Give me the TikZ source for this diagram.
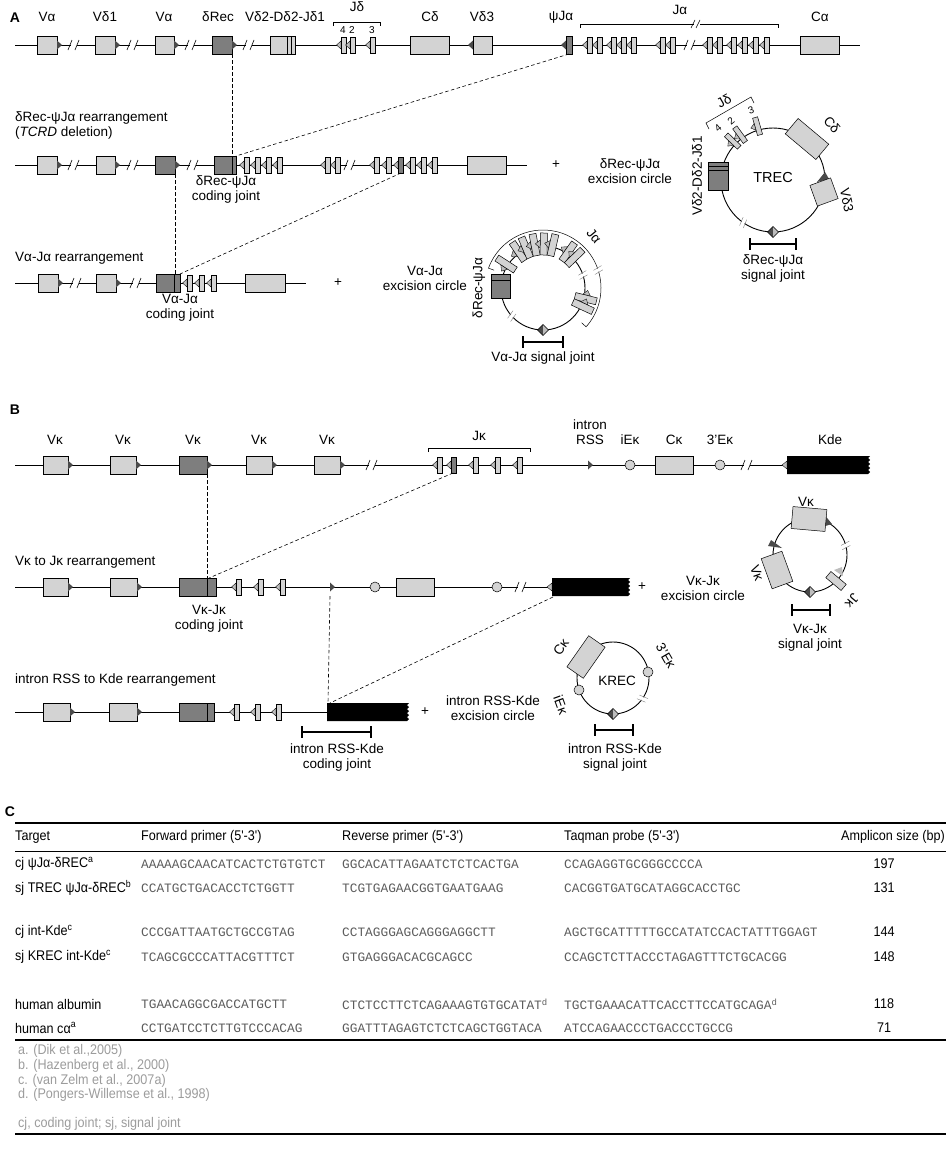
\documentclass[tikz,border=0pt]{standalone}
\usepackage{fontspec}
\setmainfont{Liberation Sans}
\newfontfamily\seqf{Liberation Mono}
\newfontfamily\tabf[FakeStretch=0.9]{Liberation Sans}
\usetikzlibrary{calc}
\definecolor{lgray}{HTML}{D3D3D3}
\definecolor{dgray}{HTML}{7E7E7E}
\definecolor{tgray}{HTML}{BDBDBD}
\definecolor{rgray}{HTML}{4A4A4A}
\definecolor{seqc}{HTML}{5C5C5C}
\definecolor{fnc}{HTML}{9C9C9C}
\newcommand\lf{\fontsize{13.5}{15}\selectfont}
\newcommand\tf{\tabf\fontsize{14}{15}\selectfont}
\newcommand\sqf{\seqf\fontsize{12.8}{14}\selectfont}
\tikzset{
 dna/.style={line width=0.9pt},
 gb/.style={draw=black,line width=0.5pt,fill=lgray},
 db/.style={draw=black,line width=0.5pt,fill=dgray},
 jtri/.style={draw=black,line width=0.35pt,fill=tgray},
 rss/.style={fill=rgray},
 dsh/.style={line width=0.6pt,dash pattern=on 3.5pt off 2.5pt},
 cir/.style={line width=0.9pt},
 lbl/.style={font=\lf,inner sep=0pt},
 sml/.style={font=\fontsize{10}{11}\selectfont,inner sep=0pt},
 panel/.style={font=\bfseries\fontsize{14}{16}\selectfont,inner sep=0pt},
 tx/.style={font=\tf,inner sep=0pt,anchor=west},
 sq/.style={font=\sqf,text=seqc,inner sep=0pt,anchor=west},
 fn/.style={font=\tf,text=fnc,inner sep=0pt,anchor=west},
 num/.style={font=\tf,inner sep=0pt},
 rbox/.style={draw=black,line width=0.5pt,inner sep=0pt},
}
% linear elements
\newcommand\gnbox[4]{\draw[#4] (#1,#3-9) rectangle (#2,#3+9);}
\newcommand\rssr[2]{\fill[rss] (#1,#2-4.5) -- (#1+5,#2) -- (#1,#2+4.5) -- cycle;}
\newcommand\rssl[2]{\fill[rss] (#1,#2-4.5) -- (#1-5,#2) -- (#1,#2+4.5) -- cycle;}
\newcommand\jsg[3]{\draw[jtri] (#1,#2-4) -- (#1-4.5,#2) -- (#1,#2+4) -- cycle;
 \draw[#3] (#1,#2-8) rectangle (#1+5,#2+8);}
\newcommand\brkk[2]{\fill[white] (#1-3,#2-2) rectangle (#1+3,#2+2);
 \draw[line width=0.6pt] (#1-6,#2+5) -- (#1-2,#2-5) (#1+1,#2+5) -- (#1+5,#2-5);}
\newcommand\kdebox[3]{\fill[black] (#1,#3-9) -- (#2,#3-9) -- (#2-2,#3-7) -- (#2,#3-5) -- (#2-2,#3-3) -- (#2,#3-1) -- (#2-2,#3+1) -- (#2,#3+3) -- (#2-2,#3+5) -- (#2,#3+7) -- (#2-2,#3+9) -- (#1,#3+9) -- cycle;}
% circle elements
\newcommand\cseg[4]{\begin{scope}[shift={#1},rotate=#2]
 \draw[#4] (#3pt-9pt,-2.6pt) rectangle (#3pt+9pt,2.6pt);
 \draw[jtri] (#3pt-3.5pt,2.6pt) -- (#3pt+3.5pt,2.6pt) -- (#3pt,7pt) -- cycle;
\end{scope}}
\newcommand\csegb[4]{\begin{scope}[shift={#1},rotate=#2]
 \draw[jtri] (#3pt-4pt,3.5pt) -- (#3pt+4pt,3.5pt) -- (#3pt,8.5pt) -- cycle;
 \draw[#4] (#3pt-11pt,-3.5pt) rectangle (#3pt+11pt,3.5pt);
\end{scope}}
\newcommand\cbrk[3]{\begin{scope}[shift={#1},rotate=#2]
 \fill[white] (#3pt-2pt,-1.6pt) rectangle (#3pt+2pt,1.6pt);
 \draw[line width=0.4pt,gray] (#3pt-4.5pt,-3.2pt) -- (#3pt+4.5pt,-1.2pt) (#3pt-4.5pt,1.2pt) -- (#3pt+4.5pt,3.2pt);
\end{scope}}
\newcommand\sjd[2]{\fill[rss] (#1-5.5,#2) -- (#1,#2-5.5) -- (#1,#2+5.5) -- cycle;
 \fill[tgray] (#1,#2-5.5) -- (#1+5.5,#2) -- (#1,#2+5.5) -- cycle;
 \draw[line width=0.4pt] (#1-5.5,#2) -- (#1,#2-5.5) -- (#1+5.5,#2) -- (#1,#2+5.5) -- cycle;}
\newcommand\sbar[3]{\draw[line width=1.8pt] (#1,#3) -- (#2,#3) (#1,#3-6) -- (#1,#3+6) (#2,#3-6) -- (#2,#3+6);}
\begin{document}
\begin{tikzpicture}[x=1pt,y=-1pt]
\useasboundingbox (0,0) rectangle (946,1159);
%================ A =================
\node[panel] (pa) at (15,18) {A};
% row A1
\draw[dna] (15,45) -- (860,45);
\gnbox{37}{57}{45}{gb}\rssr{57}{45}\brkk{74}{45}
\gnbox{95}{115}{45}{gb}\rssr{115}{45}\brkk{133}{45}
\gnbox{155}{174}{45}{gb}\rssr{174}{45}\brkk{191}{45}
\gnbox{212}{232}{45}{db}\rssr{232}{45}\brkk{249}{45}
\gnbox{270}{287}{45}{gb}\gnbox{287}{291}{45}{gb}\gnbox{291}{295}{45}{gb}
\jsg{341}{45}{gb}\jsg{350}{45}{gb}\jsg{370}{45}{gb}
\gnbox{410}{449}{45}{gb}
\rssl{473}{45}\gnbox{473}{492}{45}{gb}
\rssl{566}{45}\gnbox{566}{572}{45}{db}
\foreach \x in {587,597,611,621,631,660,670,707,717,731,742,753,764} {\jsg{\x}{45}{gb}}
\brkk{690}{45}
\gnbox{800}{839}{45}{gb}
\node[lbl] (l1) at (47,17) {Vα};
\node[lbl] (l2) at (105,17) {Vδ1};
\node[lbl] (l3) at (164,17) {Vα};
\node[lbl] (l4) at (218,17) {δRec};
\node[lbl] (l5) at (285,17) {Vδ2-Dδ2-Jδ1};
\node[lbl] (l6) at (430,17) {Cδ};
\node[lbl] (l7) at (482,17) {Vδ3};
\node[lbl] (l8) at (561,17) {ψJα};
\node[lbl] (l9) at (820,17) {Cα};
\node[lbl] (l10) at (357,7) {Jδ};
\node[lbl] (l11) at (680,10) {Jα};
\draw[line width=0.5pt] (333,26) -- (333,22) -- (380,22) -- (380,26);
\node[sml] (n4) at (343,30) {4};
\node[sml] (n2) at (352,30) {2};
\node[sml] (n3) at (372,30) {3};
\draw[line width=0.5pt] (580,28) -- (580,24) -- (778,24) -- (778,28);
\fill[white] (694,21) rectangle (700,27);
\draw[line width=0.5pt] (691,28) -- (695,20) (696,28) -- (700,20);
% dashed A1->A2
\coordinate (a1rec) at (232,54); \coordinate (a2rec) at (232,156);
\coordinate (a1psi) at (569,54); \coordinate (a2psi) at (236,156);
\draw[dsh] (a1rec) -- (a2rec);
\draw[dsh] (a1psi) -- (a2psi);
% row A2
\node[lbl,anchor=west] (a2t) at (15,118) {δRec-ψJα rearrangement};
\node[lbl,anchor=west] (a2t2) at (15,133) {(\textit{TCRD} deletion)};
\draw[dna] (15,165) -- (527,165);
\gnbox{37}{57}{165}{gb}\rssr{57}{165}\brkk{74}{165}
\gnbox{96}{115}{165}{gb}\rssr{115}{165}\brkk{133}{165}
\gnbox{155}{175}{165}{db}\rssr{175}{165}\brkk{193}{165}
\gnbox{214}{232}{165}{db}\gnbox{232}{236}{165}{db}
\foreach \x in {244,255,266,277,325,335,374,386,410,421,432} {\jsg{\x}{165}{gb}}
\jsg{398}{165}{db}
\brkk{350}{165}
\gnbox{467}{506}{165}{gb}
\node[lbl,align=center] (a2cj) at (226,190) {δRec-ψJα\\coding joint};
\node[lbl] (a2p) at (556,165) {+};
\node[lbl,align=center] (a2ex) at (630,171) {δRec-ψJα\\excision circle};
% dashed A2->A3
\coordinate (a2va) at (175,174); \coordinate (a3va) at (175,274);
\coordinate (a2j) at (401,173); \coordinate (a3j) at (180,274);
\draw[dsh] (a2va) -- (a3va);
\draw[dsh] (a2j) -- (a3j);
% row A3
\node[lbl,anchor=west] (a3t) at (15,258) {Vα-Jα rearrangement};
\draw[dna] (15,283) -- (306,283);
\gnbox{38}{58}{283}{gb}\rssr{58}{283}\brkk{76}{283}
\gnbox{96}{116}{283}{gb}\rssr{116}{283}\brkk{136}{283}
\gnbox{156}{174}{283}{db}\gnbox{174}{180}{283}{db}
\jsg{187}{283}{gb}\jsg{199}{283}{gb}\jsg{211}{283}{gb}
\gnbox{245}{285}{283}{gb}
\node[lbl,align=center] (a3cj) at (180,308) {Vα-Jα\\coding joint};
\node[lbl] (a3p) at (338,283) {+};
\node[lbl,align=center] (a3ex) at (425,278) {Vα-Jα\\excision circle};
% Va-Ja circle
\coordinate (c1) at (543,288);
\draw[cir] (c1) circle[radius=42pt];
\cbrk{(c1)}{18}{42}\cbrk{(c1)}{222}{42}
\foreach \a in {147,124,113,101,89,77,55,44,-14,-25} {\csegb{(c1)}{\a}{44}{gb}}
\draw[db] (491,274) rectangle (510,298);
\draw[line width=0.5pt] (491,280) -- (510,280);
\begin{scope}[shift={(c1)}]
\draw[line width=0.5pt] (160:52pt) -- (160:58pt) arc[start angle=160,end angle=-42,radius=58pt] -- (-42:52pt);
\end{scope}
\cbrk{(c1)}{18}{58}
\node[lbl,rotate=-50] (c1ja) at (594,236) {Jα};
\node[lbl,rotate=90] (c1rec) at (479,288) {δRec-ψJα};
\sjd{543}{330}
\sbar{523}{563}{342}
\node[lbl] (c1sj) at (543,358) {Vα-Jα signal joint};
% TREC circle
\coordinate (t) at (773,180);
\draw[cir] (t) circle[radius=52pt];
\cbrk{(t)}{235}{52}
\draw[db] (708,162) rectangle (728,190);
\draw[line width=0.5pt] (708,166) -- (728,166) (708,170) -- (728,170);
\node[lbl,rotate=90] (tvd) at (697,176) {Vδ2-Dδ2-Jδ1};
\cseg{(t)}{136}{56}{gb}\cseg{(t)}{126}{56}{gb}\cseg{(t)}{106}{56}{gb}
\node[sml,rotate=40] (t4) at (718,128) {4};
\node[sml,rotate=40] (t2) at (731,121) {2};
\node[sml,rotate=20] (t3) at (751,110) {3};
\draw[line width=0.5pt] (709,129) -- (706,123) -- (751,97) -- (754,103);
\node[lbl,rotate=30] (tjd) at (724,101) {Jδ};
\node[gb,rbox,minimum width=40pt,minimum height=20pt,rotate=-40] (tcd) at (807,139) {};
\node[lbl,rotate=-50] (tcdl) at (832,125) {Cδ};
\fill[rss] (817,182) -- (829,179) -- (825,172) -- cycle;
\node[gb,rbox,minimum width=22pt,minimum height=22pt,rotate=20] (tv3) at (824,192) {};
\node[lbl,rotate=-78] (tv3l) at (847,200) {Vδ3};
\node[lbl,font=\fontsize{14.5}{16}\selectfont] (trec) at (773,178) {TREC};
\sjd{773}{232}
\sbar{750}{796}{244}
\node[lbl,align=center] (tsj) at (773,269) {δRec-ψJα\\signal joint};
%================ B =================
\node[panel] (pb) at (15,410) {B};
\draw[dna] (15,465) -- (787,465);
\gnbox{43}{68}{465}{gb}\rssr{68}{465}
\gnbox{110}{136}{465}{gb}\rssr{136}{465}
\gnbox{179}{207}{465}{db}\rssr{207}{465}
\gnbox{246}{272}{465}{gb}\rssr{272}{465}
\gnbox{314}{340}{465}{gb}\rssr{340}{465}
\brkk{372}{465}
\jsg{437}{465}{gb}\jsg{451}{465}{db}\jsg{473}{465}{gb}\jsg{495}{465}{gb}\jsg{517}{465}{gb}
\rssr{588}{465}
\draw[gb] (630,465) circle[radius=5pt];
\gnbox{655}{693}{465}{gb}
\draw[gb] (720,465) circle[radius=5pt];
\brkk{747}{465}
\draw[jtri] (787,461) -- (782,465) -- (787,469) -- cycle;
\kdebox{787}{870}{465}
\foreach \x/\n in {55/v1,123/v2,193/v3,259/v4,327/v5} {\node[lbl] (\n) at (\x,440) {Vκ};}
\draw[line width=0.5pt] (428,452) -- (428,448) -- (530,448) -- (530,452);
\node[lbl] (bjk) at (479,436) {Jκ};
\node[lbl,align=center] (brss) at (590,432) {intron\\RSS};
\node[lbl] (biek) at (630,440) {iEκ};
\node[lbl] (bck) at (674,440) {Cκ};
\node[lbl] (b3ek) at (720,440) {3'Eκ};
\node[lbl] (bkde) at (830,440) {Kde};
% dashed B1->B2
\coordinate (b1v) at (207,474); \coordinate (b2v) at (207,578);
\coordinate (b1j) at (453,473); \coordinate (b2j) at (209,578);
\draw[dsh] (b1v) -- (b2v);
\draw[dsh] (b1j) -- (b2j);
% row B2
\node[lbl,anchor=west] (b2t) at (15,562) {Vκ to Jκ rearrangement};
\draw[dna] (15,587) -- (552,587);
\gnbox{43}{68}{587}{gb}\rssr{68}{587}
\gnbox{110}{137}{587}{gb}\rssr{137}{587}
\gnbox{179}{207}{587}{db}\gnbox{207}{216}{587}{db}
\jsg{236}{587}{gb}\jsg{258}{587}{gb}\jsg{280}{587}{gb}
\rssr{330}{587}
\draw[gb] (375,587) circle[radius=5pt];
\gnbox{396}{434}{587}{gb}
\draw[gb] (497,587) circle[radius=5pt];
\brkk{521}{587}
\draw[jtri] (552,583) -- (547,587) -- (552,591) -- cycle;
\kdebox{552}{630}{587}
\node[lbl,align=center] (b2cj) at (209,619) {Vκ-Jκ\\coding joint};
\node[lbl] (b2p) at (642,587) {+};
\node[lbl,align=center] (b2ex) at (703,588) {Vκ-Jκ\\excision circle};
% Vk-Jk circle
\coordinate (k) at (810,555);
\draw[cir] (k) circle[radius=37pt];
\cbrk{(k)}{15}{37}
\fill[rss] (823,513) -- (832,524) -- (822,527) -- cycle;
\node[gb,rbox,minimum width=34pt,minimum height=22pt,rotate=-5] (kv1) at (809,519) {};
\node[lbl] (kv1l) at (806,502) {Vκ};
\fill[rss] (768,546) -- (782,548) -- (771,540) -- cycle;
\node[gb,rbox,minimum width=32pt,minimum height=22pt,rotate=110] (kv2) at (777,570) {};
\node[lbl,rotate=-70] (kv2l) at (757,573) {Vκ};
\fill[tgray] (834,570) -- (843,576) -- (842,567) -- cycle;
\node[gb,rbox,minimum width=20pt,minimum height=8pt,rotate=-40] (kj) at (836,581) {};
\node[lbl,rotate=-130] (kjl) at (852,601) {Jκ};
\sjd{810}{592}
\sbar{792}{830}{610}
\node[lbl,align=center] (ksj) at (810,638) {Vκ-Jκ\\signal joint};
% dashed B2->B3
\coordinate (b2r) at (330,596); \coordinate (b3r) at (328,703);
\coordinate (b2k) at (553,597); \coordinate (b3k) at (330,703);
\draw[dsh] (b2r) -- (b3r);
\draw[dsh] (b2k) -- (b3k);
% row B3
\node[lbl,anchor=west] (b3t) at (15,680) {intron RSS to Kde rearrangement};
\draw[dna] (15,712) -- (327,712);
\gnbox{43}{70}{712}{gb}\rssr{70}{712}
\gnbox{109}{137}{712}{gb}\rssr{137}{712}
\gnbox{179}{207}{712}{db}\gnbox{207}{214}{712}{db}
\jsg{234}{712}{gb}\jsg{255}{712}{gb}\jsg{276}{712}{gb}
\kdebox{327}{409}{712}
\node[lbl] (b3p) at (425,712) {+};
\node[lbl,align=center] (b3ex) at (493,708) {intron RSS-Kde\\excision circle};
\sbar{302}{371}{732}
\node[lbl,align=center] (b3cj) at (337,757) {intron RSS-Kde\\coding joint};
% KREC circle
\coordinate (kr) at (613,678);
\draw[cir] (kr) circle[radius=36pt];
\cbrk{(kr)}{-35}{36}
\node[gb,rbox,minimum width=38pt,minimum height=20pt,rotate=55] (kck) at (586,657) {};
\node[lbl,rotate=55] (kckl) at (561,647) {Cκ};
\draw[gb] (648,672) circle[radius=5pt];
\node[lbl,rotate=-60] (k3l) at (666,656) {3'Eκ};
\draw[gb] (579,690) circle[radius=5pt];
\node[lbl,rotate=-70] (kil) at (561,705) {iEκ};
\node[lbl] (krec) at (617,681) {KREC};
\sjd{613}{714}
\sbar{595}{633}{730}
\node[lbl,align=center] (krsj) at (615,757) {intron RSS-Kde\\signal joint};
%================ C =================
\node[panel] (pc) at (10,812) {C};
\draw[line width=2pt] (15,823) -- (946,823);
\node[tx] (h1) at (15,837) {Target};
\node[tx] (h2) at (141,837) {Forward primer (5'-3')};
\node[tx] (h3) at (342,837) {Reverse primer (5'-3')};
\node[tx] (h4) at (564,837) {Taqman probe (5'-3')};
\node[tx,anchor=east] (h5) at (945,837) {Amplicon size (bp)};
\draw[line width=1pt] (15,851) -- (946,851);
\node[tx] (r1a) at (15,864) {cj ψJα-δREC\textsuperscript{a}};
\node[sq] (r1b) at (141,864) {AAAAAGCAACATCACTCTGTGTCT};
\node[sq] (r1c) at (342,864) {GGCACATTAGAATCTCTCACTGA};
\node[sq] (r1d) at (564,864) {CCAGAGGTGCGGGCCCCA};
\node[num] (r1e) at (884,864) {197};
\node[tx] (r2a) at (15,888) {sj TREC ψJα-δREC\textsuperscript{b}};
\node[sq] (r2b) at (141,888) {CCATGCTGACACCTCTGGTT};
\node[sq] (r2c) at (342,888) {TCGTGAGAACGGTGAATGAAG};
\node[sq] (r2d) at (564,888) {CACGGTGATGCATAGGCACCTGC};
\node[num] (r2e) at (884,888) {131};
\node[tx] (r3a) at (15,932) {cj int-Kde\textsuperscript{c}};
\node[sq] (r3b) at (141,932) {CCCGATTAATGCTGCCGTAG};
\node[sq] (r3c) at (342,932) {CCTAGGGAGCAGGGAGGCTT};
\node[sq] (r3d) at (564,932) {AGCTGCATTTTTGCCATATCCACTATTTGGAGT};
\node[num] (r3e) at (884,932) {144};
\node[tx] (r4a) at (15,957) {sj KREC int-Kde\textsuperscript{c}};
\node[sq] (r4b) at (141,957) {TCAGCGCCCATTACGTTTCT};
\node[sq] (r4c) at (342,957) {GTGAGGGACACGCAGCC};
\node[sq] (r4d) at (564,957) {CCAGCTCTTACCCTAGAGTTTCTGCACGG};
\node[num] (r4e) at (884,957) {148};
\node[tx] (r5a) at (15,1004) {human albumin};
\node[sq] (r5b) at (141,1004) {TGAACAGGCGACCATGCTT};
\node[sq] (r5c) at (342,1004) {CTCTCCTTCTCAGAAAGTGTGCATAT\textsuperscript{d}};
\node[sq] (r5d) at (564,1004) {TGCTGAAACATTCACCTTCCATGCAGA\textsuperscript{d}};
\node[num] (r5e) at (884,1004) {118};
\node[tx] (r6a) at (15,1028) {human cα\textsuperscript{a}};
\node[sq] (r6b) at (141,1028) {CCTGATCCTCTTGTCCCACAG};
\node[sq] (r6c) at (342,1028) {GGATTTAGAGTCTCTCAGCTGGTACA};
\node[sq] (r6d) at (564,1028) {ATCCAGAACCCTGACCCTGCCG};
\node[num] (r6e) at (884,1028) {71};
\draw[line width=2pt] (15,1040) -- (946,1040);
\node[fn] (f1) at (18,1051) {a. (Dik et al.,2005)};
\node[fn] (f2) at (18,1066) {b. (Hazenberg et al., 2000)};
\node[fn] (f3) at (18,1081) {c. (van Zelm et al., 2007a)};
\node[fn] (f4) at (18,1095) {d. (Pongers-Willemse et al., 1998)};
\node[fn] (f5) at (18,1124) {cj, coding joint; sj, signal joint};
\draw[line width=2pt] (15,1134) -- (946,1134);
\end{tikzpicture}
\end{document}
